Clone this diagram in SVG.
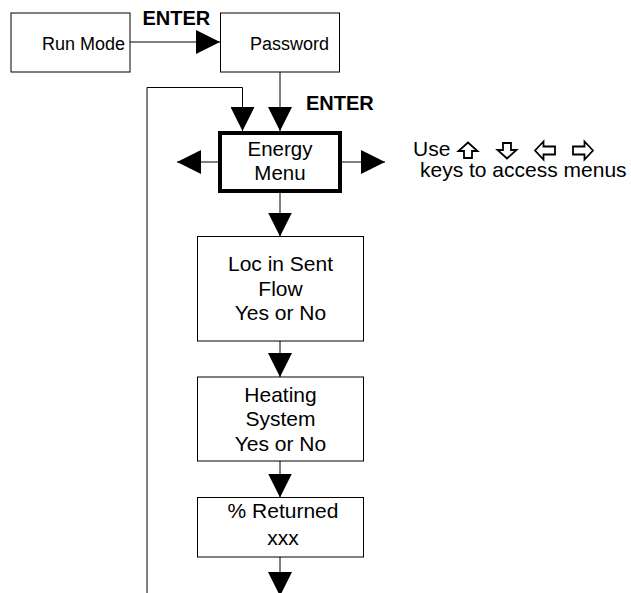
<svg xmlns="http://www.w3.org/2000/svg" width="631" height="593" viewBox="0 0 631 593">
<style>
.box{fill:#fff;stroke:#000;stroke-width:1}
.thick{fill:#fff;stroke:#000;stroke-width:4}
.t{font-family:"Liberation Sans",Arial,sans-serif;font-size:21px;fill:#000;text-anchor:middle}
.s{font-family:"Liberation Sans",Arial,sans-serif;font-size:18px;fill:#000}
.b{font-family:"Liberation Sans",Arial,sans-serif;font-size:20px;font-weight:bold;fill:#000}
.icon{fill:#fff;stroke:#000;stroke-width:1.8;stroke-linejoin:miter}
.c{fill:none;stroke:#000;stroke-width:1;marker-end:url(#ah)}
</style>
<defs>
<marker id="ah" markerUnits="userSpaceOnUse" markerWidth="24" markerHeight="24" viewBox="0 0 23 23" refX="23" refY="11.5" orient="auto">
<path d="M0,0 L23,11.5 L0,23 z" fill="#000"/>
</marker>
</defs>
<g id="connectors">
<path class="c" d="M130,42 H220"/>
<path class="c" d="M280,72 V131"/>
<path class="c" d="M147,593 V87.5 H242.5 V131"/>
<path class="c" d="M220,162 H177"/>
<path class="c" d="M340,162 H385"/>
<path class="c" d="M280,193 V236.5"/>
<path class="c" d="M280,341 V377"/>
<path class="c" d="M280,461 V497.5"/>
<path class="c" d="M280,557 V596"/>
</g>
<g id="runmode">
<rect class="box" x="11" y="13" width="119" height="59"/>
<text class="s" x="125" y="50" text-anchor="end">Run Mode</text>
</g>
<g id="label-enter1"><text class="b" x="142.5" y="25">ENTER</text></g>
<g id="password">
<rect class="box" x="220.5" y="13" width="119" height="59"/>
<text class="s" x="250" y="50">Password</text>
</g>
<g id="label-enter2"><text class="b" x="306" y="110">ENTER</text></g>
<g id="energy">
<rect class="thick" x="220" y="133" width="120" height="58"/>
<text class="t" x="280" y="156" style="font-size:20.5px">Energy</text>
<text class="t" x="280" y="180" style="font-size:20.5px">Menu</text>
</g>
<g id="note">
<text class="t" x="413" y="156" style="text-anchor:start">Use</text>
<polygon class="icon" points="468,142.5 477.5,151 472,151 472,158 464,158 464,151 458.5,151"/>
<polygon class="icon" points="507,158.5 516.5,150 511,150 511,143 503,143 503,150 497.5,150"/>
<polygon class="icon" points="535,150.5 543.5,141.5 543.5,146.5 555,146.5 555,154.5 543.5,154.5 543.5,159.5"/>
<polygon class="icon" points="593,150.5 584.5,141.5 584.5,146.5 573,146.5 573,154.5 584.5,154.5 584.5,159.5"/>
<text class="t" x="420" y="177" style="text-anchor:start">keys to access menus</text>
</g>
<g id="loc">
<rect class="box" x="197.5" y="236.5" width="166" height="104.5"/>
<text class="t" x="280.5" y="271">Loc in Sent</text>
<text class="t" x="280.5" y="295.5">Flow</text>
<text class="t" x="280.5" y="320">Yes or No</text>
</g>
<g id="heating">
<rect class="box" x="197.5" y="377" width="166" height="84"/>
<text class="t" x="280.5" y="401.5">Heating</text>
<text class="t" x="280.5" y="426">System</text>
<text class="t" x="280.5" y="451">Yes or No</text>
</g>
<g id="returned">
<rect class="box" x="197.5" y="497.5" width="166" height="59.5"/>
<text class="t" x="283" y="518">% Returned</text>
<text class="t" x="283" y="545">xxx</text>
</g>
</svg>
